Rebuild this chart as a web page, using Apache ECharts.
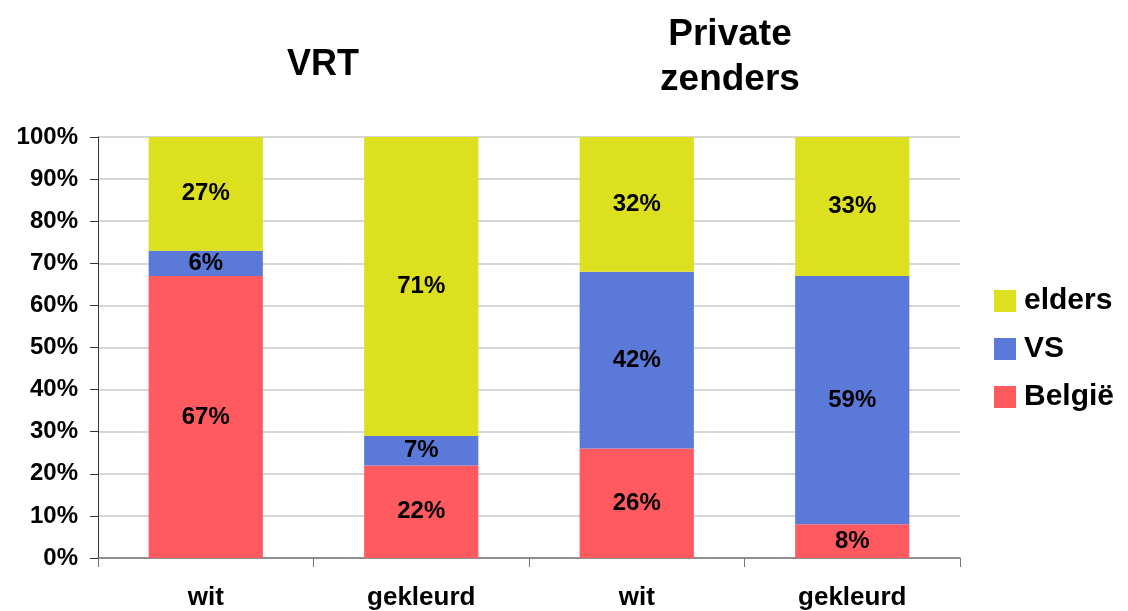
<!DOCTYPE html>
<html>
<head>
<meta charset="UTF-8">
<title>VRT / Private zenders</title>
<script src="https://cdn.jsdelivr.net/npm/echarts@6/dist/echarts.min.js"></script>
<style>
  html, body { margin: 0; padding: 0; background: #fff; }
  #main { width: 1128px; height: 611px; }
</style>
</head>
<body>
<div id="main"></div>
<script>
// categorieën en waarden (percentages)
var categories = ['wit', 'gekleurd', 'wit', 'gekleurd'];
var belgie = [67, 22, 26, 8];
var vs = [6, 7, 42, 59];
var elders = [27, 71, 32, 33];

var font = 'Liberation Sans, Arial, sans-serif';
var chart = echarts.init(document.getElementById('main'));

function mkSeries(name, data, color) {
  return {
    name: name,
    type: 'bar',
    stack: 'total',
    barWidth: '53%',
    data: data,
    itemStyle: { color: color },
    label: {
      show: true,
      position: 'inside',
      formatter: '{c}%',
      color: '#000',
      fontFamily: font,
      fontWeight: 'bold',
      fontSize: 24
    }
  };
}

chart.setOption({
  animation: false,
  title: [
    { text: 'VRT', left: 318, top: 42, textAlign: 'center',
      textStyle: { fontFamily: font, fontWeight: 'bold', fontSize: 36, color: '#000' } },
    { text: 'Private\nzenders', left: 725, top: 7, textAlign: 'center',
      textStyle: { fontFamily: font, fontWeight: 'bold', fontSize: 37, lineHeight: 45, color: '#000' } }
  ],
  legend: {
    orient: 'vertical',
    left: 989,
    top: 281,
    itemWidth: 22,
    itemHeight: 22,
    itemGap: 18,
    icon: 'rect',
    data: ['elders', 'VS', 'België'],
    textStyle: { fontFamily: font, fontWeight: 'bold', fontSize: 30, color: '#000', padding: [0, 0, 0, 3] }
  },
  grid: { left: 98, right: 168, top: 137, bottom: 46, containLabel: false },
  xAxis: {
    type: 'category',
    data: categories,
    axisLine: { lineStyle: { color: '#777', width: 1.5 } },
    axisTick: { show: true, length: 9, lineStyle: { color: '#777' } },
    axisLabel: { fontFamily: font, fontWeight: 'bold', fontSize: 26, color: '#000', margin: 27 }
  },
  yAxis: {
    type: 'value',
    min: 0,
    max: 100,
    interval: 10,
    axisLine: { show: true, lineStyle: { color: '#333' } },
    axisTick: { show: true, length: 8, lineStyle: { color: '#333' } },
    splitLine: { lineStyle: { color: '#c8c8c8', width: 1.5 } },
    axisLabel: { formatter: '{value}%', fontFamily: font, fontWeight: 'bold', fontSize: 24, color: '#000', margin: 20 }
  },
  series: [
    mkSeries('België', belgie, '#fe5a60'),
    mkSeries('VS', vs, '#5b79d8'),
    mkSeries('elders', elders, '#dde01e')
  ]
});
</script>
</body>
</html>
